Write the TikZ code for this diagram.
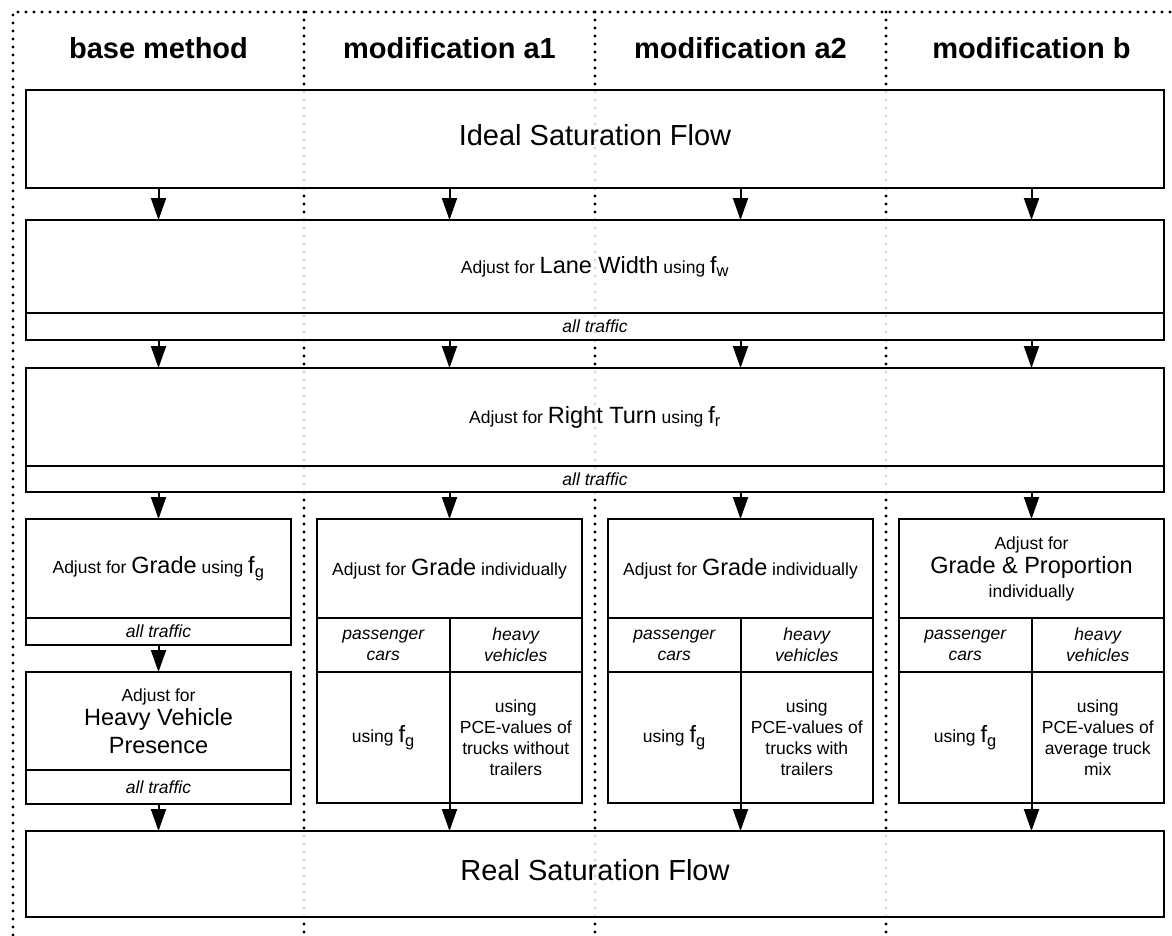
\documentclass[tikz,border=0pt]{standalone}
\usepackage{fontspec}
\setmainfont{Liberation Sans}
\usetikzlibrary{arrows.meta}
\newcommand{\Kw}[1]{{\fontsize{23.5}{28}\selectfont #1}}
\newcommand{\fsub}[1]{\Kw{f\textsubscript{#1}}}
\tikzset{
  sep/.style={line width=3.4pt,line cap=round,dash pattern=on 0pt off 8pt},
  head/.style={font=\fontsize{29}{34}\selectfont\bfseries},
  box/.style={draw,line width=2pt,fill=white,fill opacity=.85,text opacity=1,
    outer sep=0pt,inner sep=2pt,align=center,anchor=north west,
    font=\fontsize{17.5}{21}\selectfont},
  wide/.style={box,minimum width=1138pt},
  big/.style={wide,font=\fontsize{29}{34}\selectfont,text depth=8pt},
  col/.style={box,minimum width=265pt},
  half/.style={box,minimum width=132.5pt},
  sub/.style={font=\fontsize{17.5}{21}\selectfont\itshape},
  flow/.style={line width=2pt,-{Triangle[width=15pt,length=22pt]}}
}
\begin{document}
\begin{tikzpicture}[x=1pt,y=-1pt]
    \useasboundingbox (0,0) rectangle (1172,935);
    % dotted frame and column separators
    \draw[sep] (13,935) -- (13,12) -- (1172,12);
    \draw[sep] (304,12) -- (304,935);
    \draw[sep] (595,12) -- (595,935);
    \draw[sep] (886,12) -- (886,935);

    \node[head] (base) at (158.5,48) {base method};
    \node[head] (moda1) at (449.5,48) {modification a1};
    \node[head] (moda2) at (740.5,48) {modification a2};
    \node[head] (modb) at (1031.5,48) {modification b};

    \node[big,minimum height=98pt] (ideal) at (26,90) {Ideal Saturation Flow};

    \node[wide,minimum height=93pt] (lane) at (26,220) {Adjust for \Kw{Lane Width} using \fsub{w}};
    \node[wide,sub,minimum height=27pt] (lanesub) at (26,313) {all traffic};

    \node[wide,minimum height=98pt] (turn) at (26,368) {Adjust for \Kw{Right Turn} using \fsub{r}};
    \node[wide,sub,minimum height=26pt] (turnsub) at (26,466) {all traffic};

    % base method
    \node[col,minimum height=99pt] (gbase) at (26,519) {Adjust for \Kw{Grade} using \fsub{g}};
    \node[col,sub,minimum height=27pt] (gbasesub) at (26,618) {all traffic};
    \node[col,minimum height=98pt] (hv) at (26,672) {Adjust for\\[3pt]\Kw{Heavy Vehicle}\\[6pt]\Kw{Presence}};
    \node[col,sub,minimum height=34pt] (hvsub) at (26,770) {all traffic};

    % modification a1
    \node[col,minimum height=99pt] (ga1) at (317,519) {Adjust for \Kw{Grade} individually};
    \node[half,sub,minimum height=54pt] (pca1) at (317,618) {passenger\\cars};
    \node[half,sub,minimum height=54pt] (hva1) at (449.5,618) {heavy\\vehicles};
    \node[half,minimum height=131pt] (fga1) at (317,672) {using \fsub{g}};
    \node[half,minimum height=131pt] (pcea1) at (449.5,672) {using\\PCE-values of\\trucks without\\trailers};

    % modification a2
    \node[col,minimum height=99pt] (ga2) at (608,519) {Adjust for \Kw{Grade} individually};
    \node[half,sub,minimum height=54pt] (pca2) at (608,618) {passenger\\cars};
    \node[half,sub,minimum height=54pt] (hva2) at (740.5,618) {heavy\\vehicles};
    \node[half,minimum height=131pt] (fga2) at (608,672) {using \fsub{g}};
    \node[half,minimum height=131pt] (pcea2) at (740.5,672) {using\\PCE-values of\\trucks with\\trailers};

    % modification b
    \node[col,minimum height=99pt] (gb) at (899,519) {Adjust for\\[3pt]\Kw{Grade \& Proportion}\\[3pt]individually};
    \node[half,sub,minimum height=54pt] (pcb) at (899,618) {passenger\\cars};
    \node[half,sub,minimum height=54pt] (hvb) at (1031.5,618) {heavy\\vehicles};
    \node[half,minimum height=131pt] (fgb) at (899,672) {using \fsub{g}};
    \node[half,minimum height=131pt] (pceb) at (1031.5,672) {using\\PCE-values of\\average truck\\mix};

    \node[big,minimum height=86pt] (real) at (26,831) {Real Saturation Flow};

    \draw[flow] (ideal.south -| base) -- (lane.north -| base);
    \draw[flow] (ideal.south -| moda1) -- (lane.north -| moda1);
    \draw[flow] (ideal.south -| moda2) -- (lane.north -| moda2);
    \draw[flow] (ideal.south -| modb) -- (lane.north -| modb);

    \draw[flow] (lanesub.south -| base) -- (turn.north -| base);
    \draw[flow] (lanesub.south -| moda1) -- (turn.north -| moda1);
    \draw[flow] (lanesub.south -| moda2) -- (turn.north -| moda2);
    \draw[flow] (lanesub.south -| modb) -- (turn.north -| modb);

    \draw[flow] (turnsub.south -| gbase) -- (gbase.north);
    \draw[flow] (turnsub.south -| ga1) -- (ga1.north);
    \draw[flow] (turnsub.south -| ga2) -- (ga2.north);
    \draw[flow] (turnsub.south -| gb) -- (gb.north);

    \draw[flow] (gbasesub.south) -- (hv.north);
    \draw[flow] (hvsub.south) -- (real.north -| hvsub);
    \draw[flow] (pcea1.south west) -- (real.north -| pcea1.south west);
    \draw[flow] (pcea2.south west) -- (real.north -| pcea2.south west);
    \draw[flow] (pceb.south west) -- (real.north -| pceb.south west);
\end{tikzpicture}
\end{document}
